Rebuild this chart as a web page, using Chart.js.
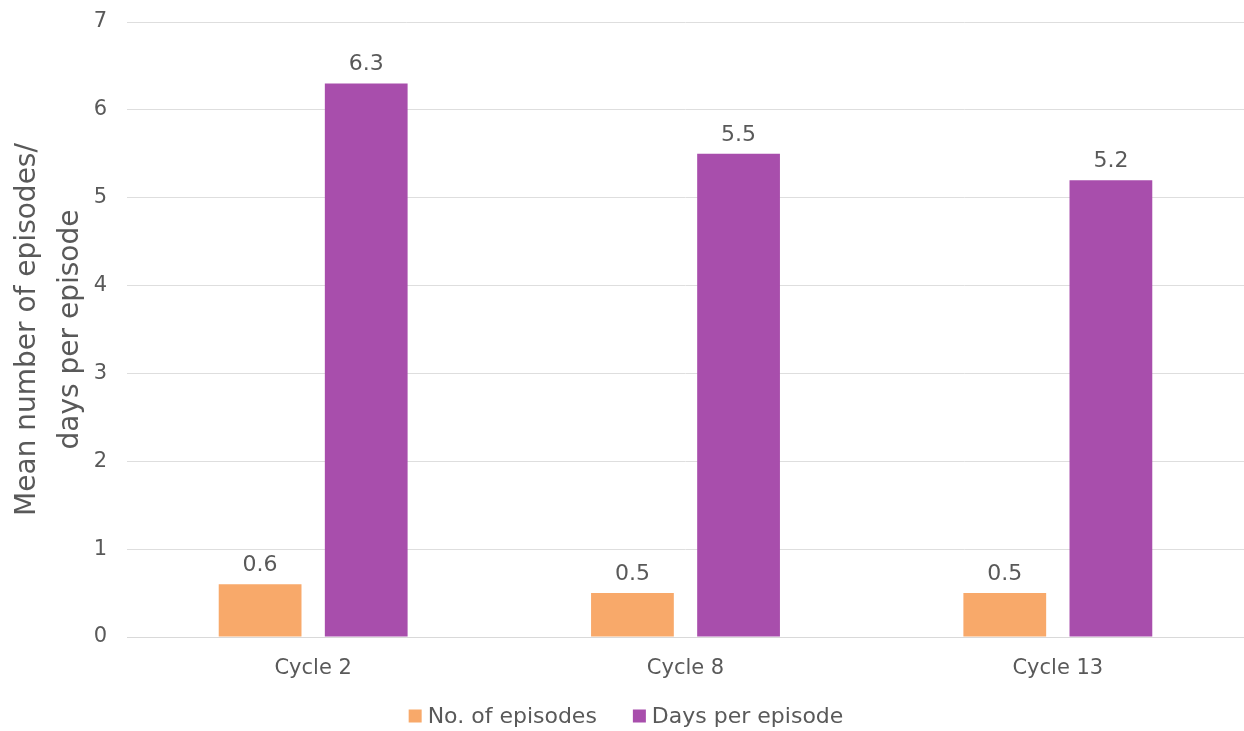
<!DOCTYPE html>
<html lang="en">
<head>
  <meta charset="UTF-8" />
  <title>Episodes per cycle</title>
  <script src="https://cdn.jsdelivr.net/npm/chart.js@4.4.0/dist/chart.umd.min.js"></script>
  <style>
    body { margin: 0; background: #fff; overflow: hidden; }
    #wrap { width: 1244px; height: 731px; }
  </style>
</head>
<body>
  <div id="wrap"><canvas id="chart"></canvas></div>
  <script>
    const cycles = ['Cycle 2', 'Cycle 8', 'Cycle 13'];
    const episodes = [0.6, 0.5, 0.5];
    const daysPerEpisode = [6.3, 5.5, 5.2];
    const yTicks = [0, 1, 2, 3, 4, 5, 6, 7];

    const textGrey = '#595959';
    const fontFamily = '"DejaVu Sans", Verdana, sans-serif';

    // value labels above each bar
    const barLabels = {
      id: 'barLabels',
      afterDatasetsDraw(chart) {
        const ctx = chart.ctx;
        ctx.save();
        ctx.font = '22px ' + fontFamily;
        ctx.fillStyle = textGrey;
        ctx.textAlign = 'center';
        ctx.textBaseline = 'bottom';
        chart.data.datasets.forEach((ds, i) => {
          chart.getDatasetMeta(i).data.forEach((bar, j) => {
            ctx.fillText(ds.data[j].toFixed(1), bar.x, bar.y - 8);
          });
        });
        ctx.restore();
      }
    };

    // legend row under the axis: small square + name, wide gap between entries
    const bottomLegend = {
      id: 'bottomLegend',
      afterDraw(chart) {
        const ctx = chart.ctx;
        const box = 13, gap = 6, spacing = 36, y = 716;
        ctx.save();
        ctx.font = '22px ' + fontFamily;
        ctx.textBaseline = 'middle';
        ctx.textAlign = 'left';
        const items = chart.data.datasets.map(ds => ({
          text: ds.label, color: ds.backgroundColor, w: ctx.measureText(ds.label).width
        }));
        const total = items.reduce((s, it) => s + box + gap + it.w, 0) + spacing * (items.length - 1);
        let x = chart.width / 2 - total / 2 + 4;
        items.forEach(it => {
          ctx.fillStyle = it.color;
          ctx.fillRect(x, y - box / 2, box, box);
          ctx.fillStyle = textGrey;
          ctx.fillText(it.text, x + box + gap, y + 1);
          x += box + gap + it.w + spacing;
        });
        ctx.restore();
      }
    };

    new Chart(document.getElementById('chart'), {
      type: 'bar',
      data: {
        labels: cycles,
        datasets: [
          { label: 'No. of episodes', data: episodes, backgroundColor: '#F8A96A' },
          { label: 'Days per episode', data: daysPerEpisode, backgroundColor: '#A84EAC' }
        ]
      },
      options: {
        responsive: true,
        maintainAspectRatio: false,
        animation: false,
        categoryPercentage: 0.57,
        barPercentage: 0.78,
        layout: { padding: { top: 22, right: 0, left: 6, bottom: 44 } },
        scales: {
          x: {
            grid: { display: false },
            border: { color: '#d9d9d9' },
            ticks: { color: textGrey, font: { family: fontFamily, size: 21 }, padding: 11 },
            afterFit(scale) { scale.height = 50; }
          },
          y: {
            min: 0,
            max: 7,
            afterBuildTicks(axis) { axis.ticks = yTicks.map(v => ({ value: v })); },
            afterFit(scale) {
              scale.width = 121;
              scale.paddingTop = 0;
              scale.paddingBottom = 0;
            },
            grid: { color: '#dedede', drawTicks: false },
            border: { display: false },
            ticks: { color: textGrey, font: { family: fontFamily, size: 21 }, padding: 20 },
            title: {
              display: true,
              text: ['Mean number of episodes/', 'days per episode'],
              color: textGrey,
              font: { family: fontFamily, size: 28, lineHeight: 1.55 },
              padding: { top: 0, bottom: 0 }
            }
          }
        },
        plugins: {
          legend: { display: false },
          tooltip: { enabled: false }
        }
      },
      plugins: [barLabels, bottomLegend]
    });
  </script>
</body>
</html>
